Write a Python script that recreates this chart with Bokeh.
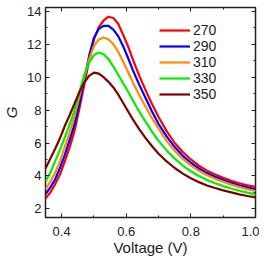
from bokeh.plotting import figure
from bokeh.models import Range1d, LinearAxis, Legend, LegendItem, NumeralTickFormatter, FixedTicker, CustomJSTickFormatter
from bokeh.embed import file_html
from bokeh.resources import INLINE

x_vals = [0.35, 0.365, 0.38, 0.395, 0.41, 0.425, 0.44, 0.455, 0.47, 0.485, 0.50, 0.515,
          0.53, 0.545, 0.56, 0.575, 0.59, 0.605, 0.62, 0.64, 0.66, 0.68, 0.70, 0.725,
          0.75, 0.775, 0.80, 0.825, 0.85, 0.875, 0.90, 0.925, 0.95, 0.975, 1.0]

g_270 = [2.62, 3.0, 3.5, 4.1, 4.9, 5.75, 6.75, 8.1, 9.55, 11.0, 12.3, 13.05,
         13.45, 13.68, 13.6, 13.25, 12.6, 11.9, 11.1, 10.1, 9.2, 8.35, 7.58, 6.72,
         6.0, 5.45, 5.0, 4.62, 4.32, 4.08, 3.88, 3.7, 3.55, 3.43, 3.33]
g_290 = [2.9, 3.3, 3.8, 4.5, 5.3, 6.2, 7.15, 8.4, 9.85, 11.3, 12.4, 12.95,
         13.12, 13.12, 12.9, 12.5, 11.9, 11.2, 10.45, 9.55, 8.72, 7.9, 7.15, 6.4,
         5.75, 5.22, 4.8, 4.45, 4.17, 3.94, 3.75, 3.58, 3.43, 3.3, 3.18]
g_310 = [3.18, 3.65, 4.2, 4.9, 5.8, 6.65, 7.65, 8.85, 10.0, 11.1, 11.9, 12.3,
         12.42, 12.3, 12.0, 11.55, 10.95, 10.35, 9.7, 8.92, 8.2, 7.5, 6.87, 6.12,
         5.52, 5.03, 4.64, 4.31, 4.04, 3.82, 3.64, 3.47, 3.32, 3.19, 3.08]
g_330 = [3.67, 4.2, 4.9, 5.6, 6.35, 7.15, 8.0, 9.1, 10.15, 10.9, 11.35, 11.5,
         11.4, 11.1, 10.65, 10.15, 9.65, 9.15, 8.6, 7.92, 7.28, 6.68, 6.13, 5.55,
         5.05, 4.63, 4.28, 3.99, 3.75, 3.55, 3.38, 3.23, 3.1, 2.98, 2.88]
g_350 = [4.45, 5.05, 5.65, 6.3, 7.05, 7.7, 8.4, 9.1, 9.68, 10.08, 10.28, 10.22,
         10.0, 9.72, 9.38, 8.95, 8.45, 7.95, 7.45, 6.85, 6.3, 5.8, 5.35, 4.88,
         4.48, 4.14, 3.86, 3.62, 3.42, 3.26, 3.12, 3.0, 2.88, 2.78, 2.69]

labels = ["270", "290", "310", "330", "350"]
colors = ["#ff0000", "#0000ff", "#ff8c00", "#00ee00", "#800000"]
series = [g_270, g_290, g_310, g_330, g_350]

x_major = [0.4, 0.6, 0.8, 1.0]
x_minor = [0.5, 0.7, 0.9]
y_major = [2, 4, 6, 8, 10, 12, 14]
y_minor = [3, 5, 7, 9, 11, 13]

FONT = "Liberation Sans"

p = figure(width=259, height=258, output_backend="svg", toolbar_location=None,
           x_range=Range1d(0.35, 1.0), y_range=Range1d(1.47, 14.24),
           min_border_left=37, min_border_right=4, min_border_top=7, min_border_bottom=34)
p.grid.visible = False
p.outline_line_color = "#222222"
p.outline_line_width = 1.5
p.background_fill_color = "white"
p.border_fill_color = "white"

renderers = []
for ys, c in zip(series, colors):
    r = p.line(x_vals, ys, line_color=c, line_width=2.2, line_join="round")
    renderers.append(r)

def style_axis(ax):
    ax.axis_line_color = None
    ax.major_tick_in = 4
    ax.major_tick_out = 0
    ax.minor_tick_in = 2
    ax.minor_tick_out = 0
    ax.major_tick_line_color = "#222222"
    ax.minor_tick_line_color = "#222222"
    ax.major_label_text_font = FONT
    ax.major_label_text_font_size = "13px"
    ax.major_label_text_color = "#222222"

xt = FixedTicker(ticks=x_major, minor_ticks=x_minor)
yt = FixedTicker(ticks=y_major, minor_ticks=y_minor)

p.xaxis.ticker = xt
p.yaxis.ticker = yt
p.xaxis.formatter = NumeralTickFormatter(format="0.0")
style_axis(p.xaxis[0])
style_axis(p.yaxis[0])
p.xaxis.major_label_standoff = 9
p.yaxis.major_label_standoff = 4
p.xaxis.axis_label = "Voltage (V)"
p.xaxis.axis_label_text_font = FONT
p.xaxis.axis_label_text_font_size = "15px"
p.xaxis.axis_label_text_font_style = "normal"
p.xaxis.axis_label_text_color = "#222222"
p.xaxis.axis_label_standoff = 0
p.yaxis.axis_label = "G"
p.yaxis.axis_label_text_font = FONT
p.yaxis.axis_label_text_font_size = "15px"
p.yaxis.axis_label_text_font_style = "italic"
p.yaxis.axis_label_text_color = "#222222"
p.yaxis.axis_label_standoff = 4

blank = CustomJSTickFormatter(code="return '';")
top_ax = LinearAxis(ticker=xt, formatter=blank)
right_ax = LinearAxis(ticker=yt, formatter=blank)
style_axis(top_ax)
style_axis(right_ax)
top_ax.major_label_standoff = 0
right_ax.major_label_standoff = 0
p.add_layout(top_ax, "above")
p.add_layout(right_ax, "right")

# one single-entry legend per series, stacked from the top
frame_bottom_offsets = [177, 161, 145, 129, 113]
for l, r, yoff in zip(labels, renderers, frame_bottom_offsets):
    lg = Legend(items=[LegendItem(label=l, renderers=[r])], location=(114, yoff),
                orientation="vertical", glyph_width=31, glyph_height=20, label_height=20,
                spacing=0, label_standoff=3, padding=0, margin=0,
                label_text_font=FONT, label_text_font_size="14px",
                label_text_color="#222222",
                border_line_color=None, background_fill_alpha=0)
    p.add_layout(lg, "center")

open("out.html", "w").write(file_html(p, INLINE))
